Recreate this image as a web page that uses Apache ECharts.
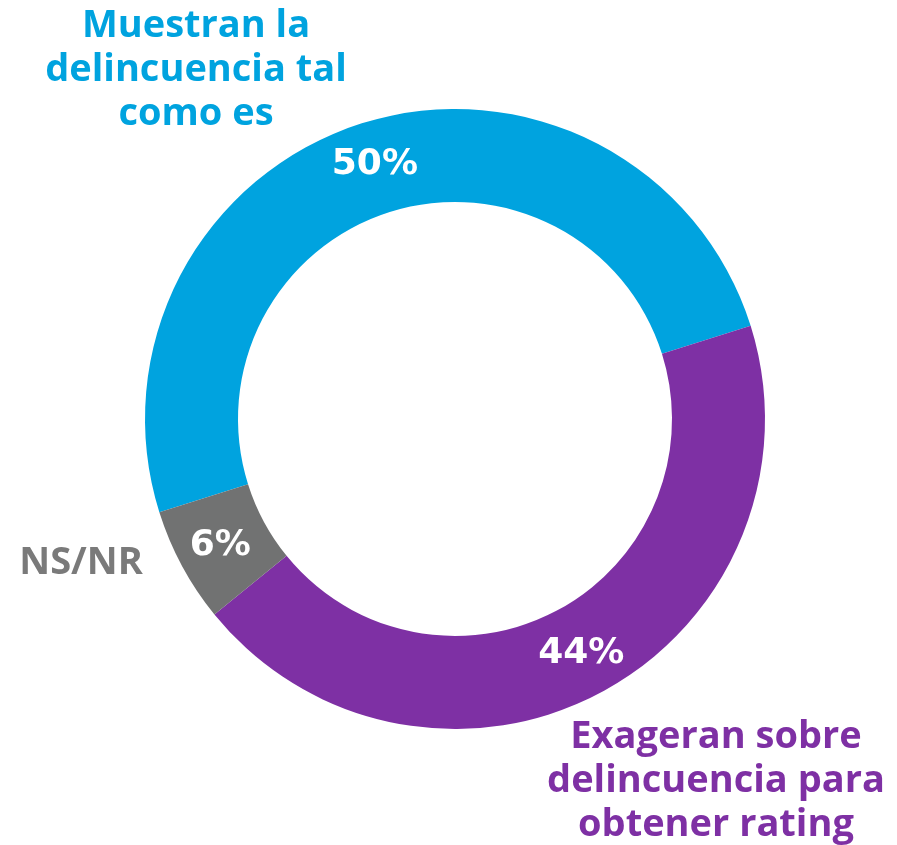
<!DOCTYPE html>
<html>
<head>
<meta charset="utf-8">
<script src="https://cdn.jsdelivr.net/npm/echarts@6/dist/echarts.min.js"></script>
<style>
  html, body { margin: 0; padding: 0; background: #fff; }
  #chart { width: 897px; height: 845px; }
</style>
</head>
<body>
<div id="chart"></div>
<script>
// datos del gráfico
const categories = ['Muestran la\ndelincuencia tal\ncomo es', 'Exageran sobre\ndelincuencia para\nobtener rating', 'NS/NR']
const values = [50, 44, 6]
const colors = ['#00A3DF', '#7E30A4', '#717272']
const labelColors = ['#00A3DF', '#7E30A4', '#7A7A7A']

const font = '"Open Sans", "DejaVu Sans", sans-serif'
const pctFont = '"DejaVu Sans", sans-serif'

const chart = echarts.init(document.getElementById('chart'))

// etiquetas exteriores
const outerPos = [[196, 70], [716, 781], [81, 563]]

const option = {
  backgroundColor: '#fff',
  animation: false,
  series: [
    {
      type: 'pie',
      center: [455, 419],
      radius: [217, 310],
      startAngle: 197.5,
      clockwise: true,
      silent: true,
      itemStyle: { borderColor: '#fff', borderWidth: 0 },
      label: {
        position: 'inside',
        formatter: '{c}%',
        color: '#fff',
        fontFamily: pctFont,
        fontWeight: 'bold',
        fontSize: 36
      },
      labelLine: { show: false },
      data: categories.map((name, i) => ({
        name: name,
        value: values[i],
        itemStyle: { color: colors[i] }
      }))
    }
  ],
  graphic: categories.map((name, i) => ({
    type: 'text',
    x: outerPos[i][0],
    y: outerPos[i][1],
    style: {
      text: name,
      fill: labelColors[i],
      font: 'bold 38px ' + font,
      align: 'center',
      verticalAlign: 'middle',
      lineHeight: 44
    }
  }))
}

chart.setOption(option)
</script>
</body>
</html>
